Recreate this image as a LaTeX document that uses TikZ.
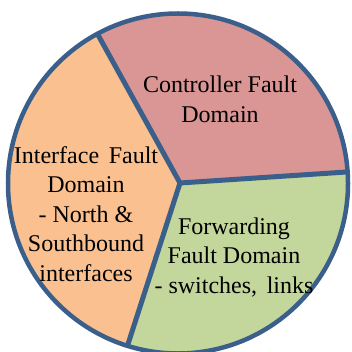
\documentclass[tikz,border=0pt]{standalone}
\usepackage{fontspec}
\setmainfont{Liberation Serif}
\usetikzlibrary{calc}
\definecolor{secred}{HTML}{D99694}
\definecolor{secorange}{HTML}{FAC090}
\definecolor{secgreen}{HTML}{C3D69B}
\definecolor{edgeblue}{HTML}{3A5F8B}
\begin{document}
\begin{tikzpicture}[x=1pt,y=-1pt,
  divider/.style={draw=edgeblue,line width=5pt},
  rim/.style={draw=edgeblue,line width=4.5pt},
  label/.style={align=center,inner sep=0pt,font=\fontsize{24}{29.5}\selectfont}]
\useasboundingbox (0,0) rectangle (351,352);
\coordinate (O) at (178,183.5);
\coordinate (S) at (180,183);
\coordinate (P1) at ($(O)+(241.7:170)$);
\coordinate (P2) at ($(O)+(-3.9:170)$);
\coordinate (P3) at ($(O)+(107.3:170)$);
\fill[secred] (S) -- (P1) arc[start angle=241.7,end angle=356.1,radius=170] -- cycle;
\fill[secgreen] (S) -- (P2) arc[start angle=-3.9,end angle=107.3,radius=170] -- cycle;
\fill[secorange] (S) -- (P3) arc[start angle=107.3,end angle=241.7,radius=170] -- cycle;
\draw[divider] (S) -- (P1);
\draw[divider] (S) -- (P2);
\draw[divider] (S) -- (P3);
\draw[rim] (O) circle[radius=170];
\node[label] (ctrl) at (220,99.5) {Controller Fault\\Domain};
\node[label] (intf) at (86,214) {Interface\hspace{0.4em}Fault\\Domain\\- North \&\\Southbound\\interfaces};
\node[label] (fwd) at (234,257.5) {Forwarding\\Fault Domain\\- switches,\hspace{0.4em}links};
\end{tikzpicture}
\end{document}
